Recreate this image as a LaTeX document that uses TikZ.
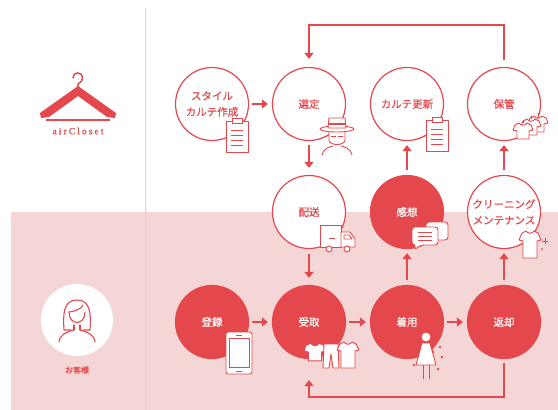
\documentclass[tikz,border=0pt]{standalone}
\usepackage{fontspec}
\newfontfamily\jpfont[FakeBold=0.6]{Noto Sans CJK JP}
\newfontfamily\logofont[LetterSpace=22,FakeBold=0.8]{Liberation Serif}
\usetikzlibrary{arrows.meta,calc}
\definecolor{acred}{RGB}{229,72,76}
\definecolor{acpink}{RGB}{245,214,214}
\definecolor{divider}{RGB}{214,214,214}
\tikzset{
  stepw/.style={circle, draw=acred, line width=1.2pt, fill=white, text=acred, minimum size=73pt,
    inner sep=0pt, align=center, font=\jpfont\fontsize{10.5}{16}\selectfont},
  stepr/.style={stepw, fill=acred, text=white},
  flow/.style={-{Triangle[width=9pt,length=6pt]}, draw=acred, line width=2.4pt},
  icon/.style={draw=acred, fill=white, line width=0.9pt, line join=round, line cap=round},
  clipboard/.pic={
    \draw[icon] (-11,-15) rectangle (11,16);
    \draw[icon] (-5,-18) rectangle (5,-13);
    \foreach \yy in {-6,-1,4,9}
      \draw[acred, line width=1pt] (-6,\yy) -- (6,\yy);
  },
  tee/.pic={
    \draw[icon] (-4,-8) -- (-8,-6) -- (-10,-1) -- (-6,0) -- (-6,8) -- (6,8) -- (6,0)
      -- (10,-1) -- (8,-6) -- (4,-8) .. controls (2,-5) and (-2,-5) .. cycle;
  },
}

\begin{document}
\begin{tikzpicture}[x=1pt,y=-1pt]
  \useasboundingbox (0,0) rectangle (558,410);

  % customer band and divider
  \fill[acpink] (11,212) rectangle (558,410);
  \draw[divider, line width=0.8pt] (145,8) -- (145,410);

  % hanger logo
  \draw[acred, line width=1.5pt, line cap=round] (78,90) -- (78,84)
    .. controls (84,82) and (84,73) .. (78,73) .. controls (74,73) and (73,76) .. (73,78);
  \fill[acred] (78,86) -- (40,113) -- (41,118) -- (49,117) -- (78,96) -- (107,117)
    -- (115,118) -- (116,113) -- cycle;
  \draw[acred, line width=1.2pt] (46,120) -- (110,120);
  \node[text=acred, font=\logofont\fontsize{9.5}{11}\selectfont] (brand) at (78,131) {airCloset};

  % customer
  \node[circle, fill=white, minimum size=72pt] (guest) at (77,320) {};
  \begin{scope}[shift={(77,320)}, acred, line width=1.1pt, line cap=round, line join=round]
    \draw (-6,10) -- (-13,10) .. controls (-14,-5) and (-14,-20) .. (0,-20)
      .. controls (14,-20) and (14,-5) .. (13,10) -- (6,10);
    \draw (-8,-8) .. controls (-8,6) and (8,6) .. (8,-8);
    \draw (-8,-8) .. controls (0,-9) and (5,-12) .. (6,-15);
    \draw (-3,5) -- (-3,10) (3,5) -- (3,10);
    \draw (-18,22) .. controls (-17,14) and (-10,12) .. (-3,10)
      (3,10) .. controls (10,12) and (17,14) .. (18,22);
  \end{scope}
  \node[text=acred, font=\jpfont\fontsize{8}{10}\selectfont] (guestlbl) at (77,370) {お客様};

  % service steps
  \node[stepw] (karte) at (212,104) {スタイル\\カルテ作成};
  \node[stepw] (sentei) at (309,104) {選定};
  \node[stepw] (koshin) at (407,104) {カルテ更新};
  \node[stepw] (hokan) at (504,104) {保管};
  \node[stepw] (haiso) at (309,212) {配送};
  \node[stepr] (kanso) at (407,212) {感想};
  \node[stepw] (clean) at (504,212) {クリーニング\\メンテナンス};
  \node[stepr] (toroku) at (212,322) {登録};
  \node[stepr] (uketori) at (309,322) {受取};
  \node[stepr] (chakuyo) at (407,322) {着用};
  \node[stepr] (henkyaku) at (504,322) {返却};

  % arrows
  \draw[flow, shorten <=3pt, shorten >=4pt] (karte) -- (sentei);
  \draw[flow, shorten <=3pt, shorten >=4pt] (toroku) -- (uketori);
  \draw[flow, shorten <=3pt, shorten >=4pt] (uketori) -- (chakuyo);
  \draw[flow, shorten <=3pt, shorten >=4pt] (chakuyo) -- (henkyaku);
  \draw[flow, shorten <=4pt, shorten >=7pt] (sentei) -- (haiso);
  \draw[flow, shorten <=5pt, shorten >=7pt] (haiso) -- (uketori);
  \foreach \from/\to in {kanso/koshin, chakuyo/kanso, clean/hokan, henkyaku/clean}
    \draw[flow, shorten <=5pt, shorten >=4pt] (\from) -- (\to);

  % return loops
  \coordinate (topway) at (0,25);
  \coordinate (botway) at (0,397);
  \draw[flow, shorten <=7pt, shorten >=8pt] (hokan.north) -- (hokan.north |- topway)
    -- (sentei.north |- topway) -- (sentei.north);
  \draw[flow, shorten <=4pt, shorten >=21pt] (henkyaku.south) -- (henkyaku.south |- botway)
    -- (uketori.south |- botway) -- (uketori.south);

  % clipboards
  \pic at (237,136) {clipboard};
  \pic at (437,135) {clipboard};

  % stylist with hat
  \begin{scope}[shift={(337,136)}]
    \draw[icon] (-8,-6) -- (-8,4) .. controls (-8,10) and (8,10) .. (8,4) -- (8,-6);
    \draw[acred, line width=1pt] (-6,0) -- (-1,0) (1,0) -- (6,0);
    \draw[icon] (0,-7) ellipse (17 and 3);
    \draw[icon] (-9,-8) -- (-8,-18) -- (8,-18) -- (9,-8) -- cycle;
    \draw[acred, line width=1.6pt] (-8.5,-12) -- (8.5,-12);
    \draw[icon, fill=none] (-15,19) .. controls (-13,12) and (-8,11) .. (-4,10)
      (4,10) .. controls (8,11) and (13,12) .. (15,19);
  \end{scope}

  % stored clothes
  \begin{scope}[shift={(528,128)}]
    \foreach \dx/\dy in {10/-4, 3/-1, -5/3}{
      \draw[acred, line width=0.8pt] (\dx,\dy-8) -- (\dx,\dy-11);
      \pic at (\dx,\dy) {tee};
    }
  \end{scope}

  % delivery truck
  \begin{scope}[shift={(338,238)}]
    \draw[icon] (-18,-13) rectangle (3,9);
    \draw[icon] (3,-6) -- (12,-6) -- (17,1) -- (17,9) -- (3,9) -- cycle;
    \draw[icon] (6,-3) -- (11,-3) -- (14,1) -- (6,1) -- cycle;
    \draw[acred, line width=0.9pt] (-9,0) -- (-3,0);
    \draw[icon] (-9,11) circle (3);
    \draw[icon] (9,11) circle (3);
  \end{scope}

  % speech bubbles
  \begin{scope}[shift={(430,235)}]
    \draw[icon, rounded corners=3pt] (-4,-13) rectangle (18,5);
    \draw[icon, rounded corners=3pt] (-18,-8) -- (8,-8) -- (8,10) -- (-9,10) -- (-16,15)
      -- (-14,10) -- (-18,10) -- cycle;
    \foreach \yy in {-3,1,5}
      \draw[acred, line width=1pt] (-12,\yy) -- (2,\yy);
  \end{scope}

  % cleaned tunic
  \begin{scope}[shift={(530,244)}]
    \draw[icon] (-4,-13) -- (-8,-11) -- (-11,-4) -- (-7,-3) -- (-7,14) -- (7,14) -- (7,-3)
      -- (11,-4) -- (8,-11) -- (4,-13) .. controls (2,-10) and (-2,-10) .. cycle;
    \draw[acred, line width=0.7pt] (12,-3) -- (18,-3) (15,-6) -- (15,0);
    \fill[acred] (12,5) circle (1);
  \end{scope}

  % smartphone
  \begin{scope}[shift={(239,353)}]
    \draw[icon, rounded corners=2pt] (-13,-21) rectangle (13,21);
    \draw[acred, line width=0.8pt] (-10,-15) rectangle (10,14);
    \draw[acred, line width=0.8pt] (-3,18) -- (3,18) (-3,-18) -- (3,-18);
  \end{scope}

  % received clothes
  \begin{scope}[shift={(331,354)}]
    \pic[scale=1.1] at (-16,-2) {tee};
    \draw[icon] (-7,-10) -- (7,-10) -- (8,14) -- (2,14) -- (0,0) -- (-2,14) -- (-8,14) -- cycle;
    \draw[icon] (13,-12) -- (9,-10) -- (6,-4) -- (10,-3) -- (10,14) -- (24,14) -- (24,-3)
      -- (28,-4) -- (25,-10) -- (21,-12) .. controls (19,-9) and (15,-9) .. cycle;
  \end{scope}

  % wearing woman
  \begin{scope}[shift={(426,355)}]
    \draw[icon] (-3,10) -- (-3,24) (3,10) -- (3,24);
    \draw[icon] (-4,-12) -- (4,-12) -- (10,10) -- (-10,10) -- cycle;
    \draw[icon] (0,-18) circle (5);
    \draw[icon, fill=none] (4,-11) -- (8,-2);
    \foreach \px/\py in {-14/0, 14/-8, 16/2, -12/10, 12/14}
      \fill[acred] (\px,\py) circle (1.3);
  \end{scope}
\end{tikzpicture}
\end{document}
